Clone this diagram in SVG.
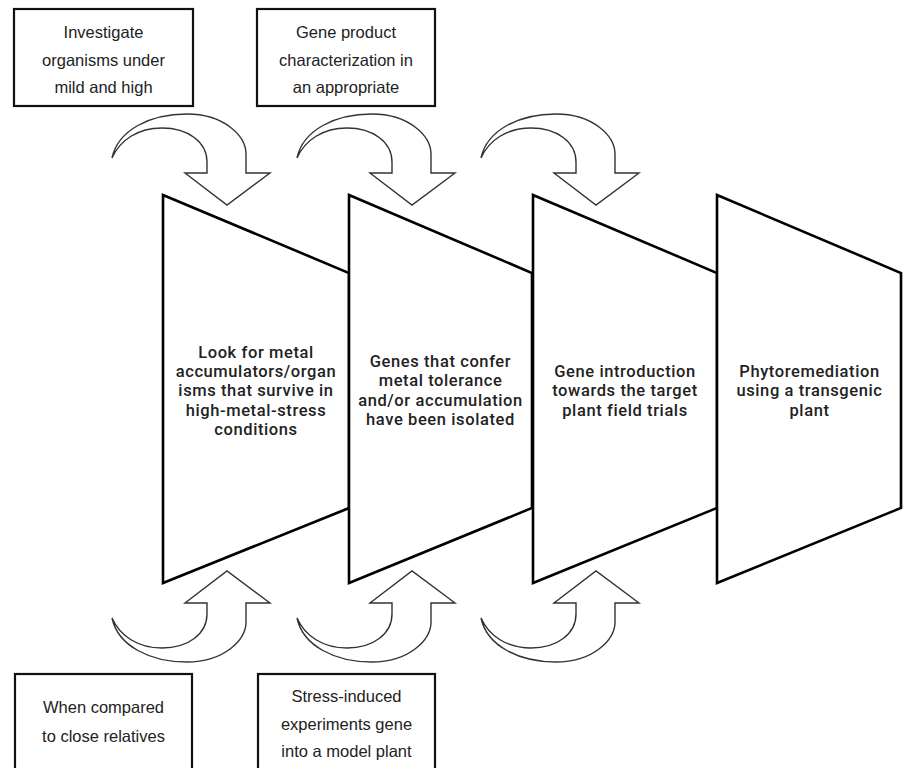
<svg xmlns="http://www.w3.org/2000/svg" xmlns:xlink="http://www.w3.org/1999/xlink" width="903" height="768" viewBox="0 0 903 768">
<style>
.box{fill:#fff;stroke:#111;stroke-width:2.2}
.trap{fill:#fff;stroke:#000;stroke-width:2.6;stroke-linejoin:miter}
.arrow{fill:#fff;stroke:#333;stroke-width:1.4;stroke-linejoin:miter}
.bt{font-family:"Liberation Sans",Arial,sans-serif;font-size:16.5px;fill:#222;text-anchor:middle}
.tt{font-family:Roboto,"Liberation Sans",sans-serif;font-size:16.5px;font-weight:500;letter-spacing:0.6px;fill:#222;text-anchor:middle}
</style>
<defs>
<path id="carrow" d="M0,0 C6,-28 38,-44 75,-44 C112,-44 134,-22 134,-4 L134,15 L158,15 L115,47 L73,15 L95,15 L95,4 C95,-16 76,-30 50,-30 C26,-30 8,-18 0,0 Z"/>
</defs>
<rect width="903" height="768" fill="#fff"/>
<g id="connectors">
<use xlink:href="#carrow" href="#carrow" class="arrow" transform="translate(112,158)"/>
<use xlink:href="#carrow" href="#carrow" class="arrow" transform="translate(297,158)"/>
<use xlink:href="#carrow" href="#carrow" class="arrow" transform="translate(481,158)"/>
<use xlink:href="#carrow" href="#carrow" class="arrow" transform="translate(112,618) scale(1,-1)"/>
<use xlink:href="#carrow" href="#carrow" class="arrow" transform="translate(297,618) scale(1,-1)"/>
<use xlink:href="#carrow" href="#carrow" class="arrow" transform="translate(481,618) scale(1,-1)"/>
</g>
<g id="box-investigate">
<rect class="box" x="14" y="9" width="179" height="97"/>
<text class="bt" x="103.5" y="38">Investigate</text>
<text class="bt" x="103.5" y="66">organisms under</text>
<text class="bt" x="103.5" y="93">mild and high</text>
</g>
<g id="box-gene-product">
<rect class="box" x="257" y="9" width="178" height="97"/>
<text class="bt" x="346" y="38">Gene product</text>
<text class="bt" x="346" y="66">characterization in</text>
<text class="bt" x="346" y="93">an appropriate</text>
</g>
<g id="box-compared">
<rect class="box" x="15" y="674" width="177" height="120"/>
<text class="bt" x="103.5" y="713">When compared</text>
<text class="bt" x="103.5" y="742">to close relatives</text>
</g>
<g id="box-stress">
<rect class="box" x="258" y="674" width="177" height="120"/>
<text class="bt" x="346.5" y="702">Stress-induced</text>
<text class="bt" x="346.5" y="730">experiments gene</text>
<text class="bt" x="346.5" y="757">into a model plant</text>
</g>
<g id="step-look">
<polygon class="trap" points="163,195 349,273 349,508 163,583"/>
<text class="tt" x="256" y="357.5">Look for metal</text>
<text class="tt" x="256" y="377">accumulators/organ</text>
<text class="tt" x="256" y="396.3">isms that survive in</text>
<text class="tt" x="256" y="415.7">high-metal-stress</text>
<text class="tt" x="256" y="435">conditions</text>
</g>
<g id="step-genes">
<polygon class="trap" points="349,195 532,273 532,508 349,583"/>
<text class="tt" x="440.5" y="367">Genes that confer</text>
<text class="tt" x="440.5" y="386.4">metal tolerance</text>
<text class="tt" x="440.5" y="405.8">and/or accumulation</text>
<text class="tt" x="440.5" y="425.2">have been isolated</text>
</g>
<g id="step-introduction">
<polygon class="trap" points="533,195 717,273 717,508 533,583"/>
<text class="tt" x="625" y="377">Gene introduction</text>
<text class="tt" x="625" y="396.4">towards the target</text>
<text class="tt" x="625" y="415.8">plant field trials</text>
</g>
<g id="step-phyto">
<polygon class="trap" points="717,195 901,273 901,508 717,583"/>
<text class="tt" x="809.5" y="377">Phytoremediation</text>
<text class="tt" x="809.5" y="396.4">using a transgenic</text>
<text class="tt" x="809.5" y="415.8">plant</text>
</g>
</svg>
